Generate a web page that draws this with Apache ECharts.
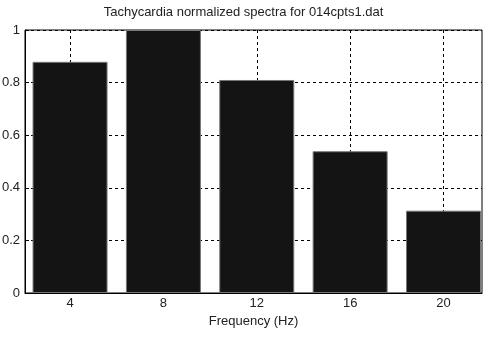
<!DOCTYPE html>
<html><head><meta charset="utf-8">
<script src="https://cdn.jsdelivr.net/npm/echarts@6/dist/echarts.min.js"></script>
<style>html,body{margin:0;padding:0;background:#fff}#c{width:487px;height:337px}</style>
</head><body><div id="c"></div>
<script>
const freqs = [4, 8, 12, 16, 20];
const values = [0.879, 1.0, 0.81, 0.539, 0.313];
const xTicks = [4, 8, 12, 16, 20];
const yTicks = [0, 0.2, 0.4, 0.6, 0.8, 1];
const titleText = 'Tachycardia normalized spectra for 014cpts1.dat';
const xLabel = 'Frequency (Hz)';

const chart = echarts.init(document.getElementById('c'), null, {renderer: 'canvas'});
const font = 'Liberation Sans, Arial, sans-serif';
chart.setOption({
  animation: false,
  backgroundColor: '#fff',
  title: {text: titleText, left: 'center', top: 1,
    textStyle: {fontFamily: font, fontSize: 13, fontWeight: 'normal', color: '#222'}},
  grid: {left: 25, right: 5, top: 30, bottom: 44, containLabel: false,
    outerBoundsMode: 'none',
    show: true, borderColor: '#000', borderWidth: 1, backgroundColor: 'transparent'},
  xAxis: {
    type: 'value', min: 2.07, max: 21.65,
    name: xLabel, nameLocation: 'middle', nameGap: 22,
    nameTextStyle: {fontFamily: font, fontSize: 13, color: '#222'},
    axisLine: {show: true, onZero: false, lineStyle: {color: '#000', width: 1}},
    axisTick: {show: true, inside: true, length: 4, customValues: xTicks, lineStyle: {color: '#000'}},
    axisLabel: {customValues: xTicks, fontFamily: font, fontSize: 13, color: '#222', margin: 4},
    splitLine: {show: true, lineStyle: {color: '#000', type: [3, 3], width: 1}}
  },
  yAxis: {
    type: 'value', min: 0, max: 1, interval: 0.2,
    axisLine: {show: true, lineStyle: {color: '#000', width: 1}},
    axisTick: {show: true, inside: true, length: 4, lineStyle: {color: '#000'}},
    axisLabel: {fontFamily: font, fontSize: 13, color: '#222', margin: 5,
      formatter: v => String(+v.toFixed(1))},
    splitLine: {show: true, lineStyle: {color: '#000', type: [3, 3], width: 1}}
  },
  series: [{
    type: 'bar', barWidth: 75,
    data: freqs.map((f, i) => [f, values[i]]),
    itemStyle: {color: '#141414', borderColor: '#777', borderWidth: 1},
    z: 1
  }]
});
</script></body></html>
